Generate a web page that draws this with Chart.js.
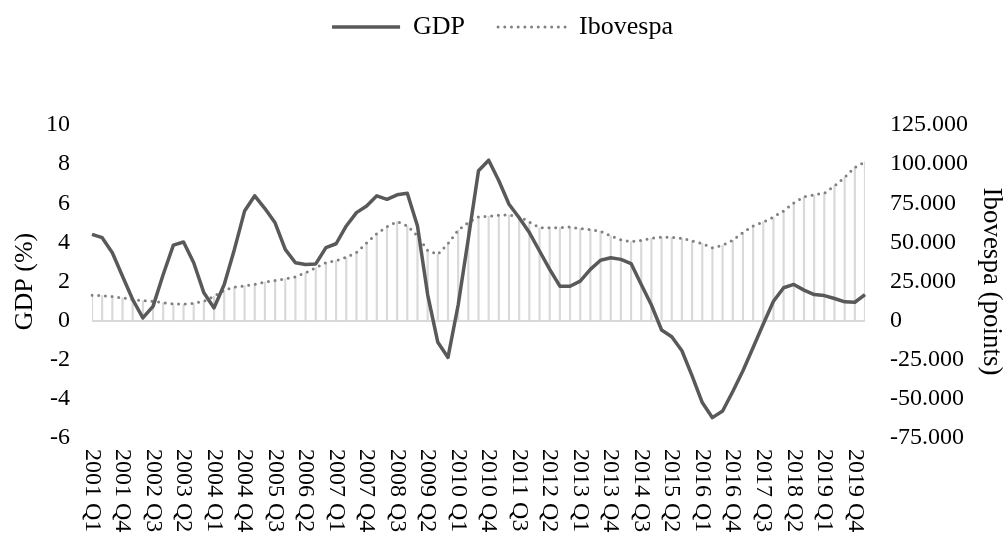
<!DOCTYPE html>
<html>
<head>
<meta charset="utf-8">
<script src="https://cdn.jsdelivr.net/npm/chart.js@4.4.1/dist/chart.umd.min.js"></script>
<style>
html,body{margin:0;padding:0;background:#fff;}
#wrap{width:1005px;height:538px;}
</style>
</head>
<body>
<div id="wrap"><canvas id="c" width="1005" height="538"></canvas></div>
<script>
const quarters = [
  '2001 Q1','2001 Q2','2001 Q3','2001 Q4','2002 Q1','2002 Q2','2002 Q3','2002 Q4',
  '2003 Q1','2003 Q2','2003 Q3','2003 Q4','2004 Q1','2004 Q2','2004 Q3','2004 Q4',
  '2005 Q1','2005 Q2','2005 Q3','2005 Q4','2006 Q1','2006 Q2','2006 Q3','2006 Q4',
  '2007 Q1','2007 Q2','2007 Q3','2007 Q4','2008 Q1','2008 Q2','2008 Q3','2008 Q4',
  '2009 Q1','2009 Q2','2009 Q3','2009 Q4','2010 Q1','2010 Q2','2010 Q3','2010 Q4',
  '2011 Q1','2011 Q2','2011 Q3','2011 Q4','2012 Q1','2012 Q2','2012 Q3','2012 Q4',
  '2013 Q1','2013 Q2','2013 Q3','2013 Q4','2014 Q1','2014 Q2','2014 Q3','2014 Q4',
  '2015 Q1','2015 Q2','2015 Q3','2015 Q4','2016 Q1','2016 Q2','2016 Q3','2016 Q4',
  '2017 Q1','2017 Q2','2017 Q3','2017 Q4','2018 Q1','2018 Q2','2018 Q3','2018 Q4',
  '2019 Q1','2019 Q2','2019 Q3','2019 Q4','2020 Q1'
];

const gdp = [
  4.41, 4.24, 3.47, 2.27, 1.08, 0.14, 0.73, 2.36,
  3.86, 4.02, 2.96, 1.42, 0.65, 1.85, 3.64, 5.60,
  6.38, 5.73, 5.00, 3.64, 2.96, 2.87, 2.90, 3.73,
  3.93, 4.84, 5.52, 5.86, 6.38, 6.20, 6.43, 6.51,
  4.84, 1.33, -1.11, -1.88, 0.80, 4.20, 7.66, 8.20,
  7.15, 5.95, 5.26, 4.50, 3.56, 2.62, 1.76, 1.76,
  2.02, 2.62, 3.09, 3.21, 3.13, 2.92, 1.85, 0.80,
  -0.48, -0.82, -1.54, -2.82, -4.19, -4.96, -4.62, -3.62,
  -2.56, -1.37, -0.17, 0.99, 1.68, 1.85, 1.56, 1.33,
  1.28, 1.13, 0.96, 0.94, 1.33
];

const ibovespa = [
  16200, 16000, 15400, 14500, 13500, 12800, 12400, 11500,
  10700, 10500, 11100, 12400, 15600, 19400, 21400, 22200,
  23100, 24600, 25600, 26700, 28000, 30600, 33800, 37000,
  38300, 40500, 43500, 49600, 55600, 60000, 63300, 60500,
  54100, 44900, 42300, 49200, 57700, 62800, 66200, 66700,
  67300, 67500, 66500, 63000, 59400, 59400, 59400, 59800,
  58800, 58100, 57100, 54100, 51700, 50400, 51300, 52600,
  53400, 53200, 52600, 50900, 49200, 46600, 48100, 51300,
  56400, 60500, 63000, 66200, 70100, 75200, 79100, 80400,
  81400, 86100, 91500, 97900, 101500
];

const shownQuarters = [
  '2001 Q1','2001 Q4','2002 Q3','2003 Q2','2004 Q1','2004 Q4','2005 Q3','2006 Q2',
  '2007 Q1','2007 Q4','2008 Q3','2009 Q2','2010 Q1','2010 Q4','2011 Q3','2012 Q2',
  '2013 Q1','2013 Q4','2014 Q3','2015 Q2','2016 Q1','2016 Q4','2017 Q3','2018 Q2',
  '2019 Q1','2019 Q4'
];

const gdpTickValues = [-6, -4, -2, 0, 2, 4, 6, 8, 10];
const gdpTickLabels = ['-6', '-4', '-2', '0', '2', '4', '6', '8', '10'];
const iboTickValues = [-75000, -50000, -25000, 0, 25000, 50000, 75000, 100000, 125000];
const iboTickLabels = ['-75.000', '-50.000', '-25.000', '0', '25.000', '50.000', '75.000', '100.000', '125.000'];

const leftTitle = 'GDP (%)';
const rightTitle = 'Ibovespa (points)';

const FONT = '"Liberation Serif", "Times New Roman", serif';
Chart.defaults.font.family = FONT;
Chart.defaults.color = '#000';

const legendMargin = {
  id: 'legendMargin',
  beforeInit(chart) {
    const origFit = chart.legend.fit;
    chart.legend.fit = function () {
      origFit.call(this);
      this.height = 144;
    };
  }
};

const xLabels = {
  id: 'xLabels',
  afterDraw(chart) {
    const xs = chart.scales.x;
    const ctx = chart.ctx;
    ctx.save();
    ctx.font = '24px ' + FONT;
    ctx.fillStyle = '#000';
    ctx.textAlign = 'left';
    ctx.textBaseline = 'middle';
    quarters.forEach((q, i) => {
      if (!shownQuarters.includes(q)) return;
      const x = xs.getPixelForValue(i);
      ctx.save();
      ctx.translate(x, xs.top + 11);
      ctx.rotate(Math.PI / 2);
      ctx.fillText(q, 0, 0);
      ctx.restore();
    });
    ctx.restore();
  }
};

new Chart(document.getElementById('c'), {
  type: 'line',
  data: {
    labels: quarters,
    datasets: [
      {
        label: 'GDP',
        data: gdp,
        yAxisID: 'y',
        borderColor: '#595959',
        backgroundColor: '#595959',
        borderWidth: 3.5,
        borderJoinStyle: 'round',
        pointRadius: 0,
        tension: 0,
        order: 1
      },
      {
        label: 'Ibovespa',
        data: ibovespa,
        yAxisID: 'y1',
        borderColor: '#808080',
        backgroundColor: '#808080',
        borderWidth: 3,
        borderDash: [0, 6.7],
        borderCapStyle: 'round',
        pointRadius: 0,
        tension: 0,
        order: 2
      },
      {
        type: 'bar',
        label: 'Ibovespa drop lines',
        data: ibovespa,
        yAxisID: 'y1',
        backgroundColor: '#d9d9d9',
        borderWidth: 0,
        barThickness: 1.5,
        order: 3
      }
    ]
  },
  options: {
    responsive: false,
    devicePixelRatio: 1,
    animation: false,
    layout: { padding: { top: -19, left: 0, right: 0, bottom: 0 } },
    plugins: {
      tooltip: { enabled: false },
      legend: {
        position: 'top',
        align: 'center',
        labels: {
          usePointStyle: true,
          pointStyleWidth: 68,
          boxWidth: 68,
          padding: 33,
          font: { size: 26 },
          color: '#000',
          generateLabels(chart) {
            return chart.data.datasets.slice(0, 2).map((ds, i) => ({
              text: ds.label,
              strokeStyle: ds.borderColor,
              fillStyle: ds.borderColor,
              lineWidth: ds.borderWidth,
              lineDash: ds.borderDash || [],
              lineCap: ds.borderCapStyle || 'butt',
              pointStyle: 'line',
              hidden: false,
              fontColor: '#000',
              datasetIndex: i
            }));
          }
        }
      }
    },
    scales: {
      x: {
        type: 'category',
        offset: false,
        grid: { display: false, drawTicks: false },
        border: { display: false },
        ticks: { display: false },
        afterFit(s) { s.height = 100; }
      },
      y: {
        position: 'left',
        min: -6,
        max: 10,
        ticks: {
          stepSize: 2,
          padding: 22,
          font: { size: 24 },
          color: '#000',
          callback: v => gdpTickLabels[gdpTickValues.indexOf(v)]
        },
        grid: {
          drawTicks: false,
          lineWidth: 2,
          color: c => (c.tick && c.tick.value === 0) ? '#d9d9d9' : 'rgba(0,0,0,0)'
        },
        border: { display: false },
        title: { display: true, text: leftTitle, font: { size: 26 }, color: '#000', padding: { top: 10, bottom: 0 } },
        afterFit(s) { s.width = 92; }
      },
      y1: {
        position: 'right',
        min: -75000,
        max: 125000,
        ticks: {
          stepSize: 25000,
          padding: 25,
          font: { size: 24 },
          color: '#000',
          callback: v => iboTickLabels[iboTickValues.indexOf(v)]
        },
        grid: { display: false, drawTicks: false },
        border: { display: false },
        title: { display: true, text: rightTitle, font: { size: 27, lineHeight: 1 }, color: '#000', padding: { top: 0, bottom: 0 } },
        afterFit(s) { s.width = 140; }
      }
    }
  },
  plugins: [legendMargin, xLabels]
});
</script>
</body>
</html>
